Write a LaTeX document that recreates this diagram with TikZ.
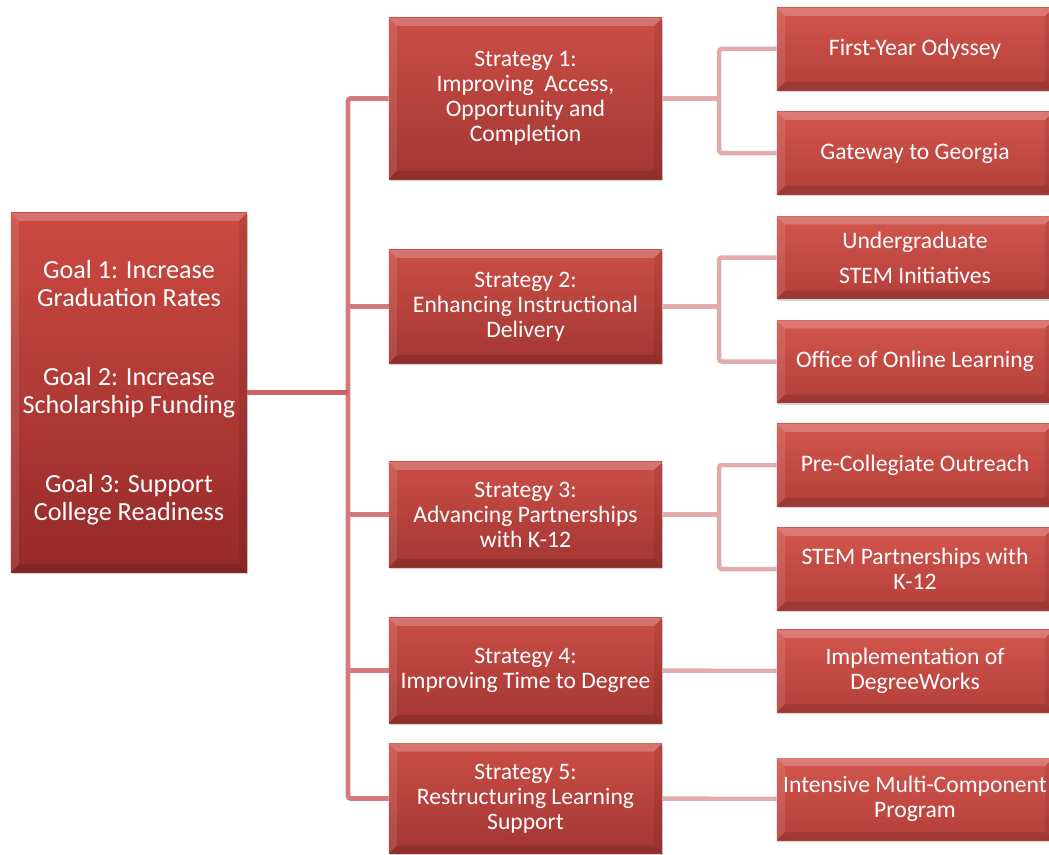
\documentclass[tikz,border=0pt]{standalone}
\usepackage{fontspec}
\setmainfont{Carlito}
\usetikzlibrary{shadows}

\definecolor{goaltop}{RGB}{203,74,66}
\definecolor{goalbot}{RGB}{150,42,40}
\definecolor{strattop}{RGB}{203,78,70}
\definecolor{stratbot}{RGB}{163,54,50}
\definecolor{leaftop}{RGB}{210,86,78}
\definecolor{leafbot}{RGB}{180,63,57}
\definecolor{trunkred}{RGB}{212,122,122}
\definecolor{goallink}{RGB}{202,98,98}
\definecolor{twigred}{RGB}{226,172,172}

\tikzset{
  bevel/.style={path picture={
      \path (path picture bounding box.north west) coordinate (bnw)
            (path picture bounding box.south east) coordinate (bse);
      \fill[white, opacity=0.22] (bnw) -- (bnw -| bse) -- ++(-#1,-#1) -- ([shift={(#1,-#1)}]bnw) -- cycle;
      \fill[white, opacity=0.10] (bnw) -- ([shift={(#1,-#1)}]bnw) -- ([shift={(#1,#1)}]bnw |- bse) -- (bnw |- bse) -- cycle;
      \fill[black, opacity=0.08] (bnw -| bse) -- (bse) -- ++(-#1,#1) -- ([shift={(-#1,-#1)}]bnw -| bse) -- cycle;
      \fill[black, opacity=0.12] (bnw |- bse) -- (bse) -- ++(-#1,#1) -- ([shift={(#1,#1)}]bnw |- bse) -- cycle;
  }},
  box/.style={rectangle, align=center, text=white, inner sep=1pt, bevel=0.2cm,
    drop shadow={shadow xshift=1pt, shadow yshift=-1.5pt, opacity=0.35}},
  goalbox/.style={box, top color=goaltop, bottom color=goalbot,
    minimum width=5.9cm, minimum height=8.975cm, font=\fontsize{18.6}{20}\selectfont},
  stratbox/.style={box, top color=strattop, bottom color=stratbot,
    minimum width=6.825cm, font=\fontsize{16.8}{17.8}\selectfont},
  leafbox/.style={box, top color=leaftop, bottom color=leafbot,
    minimum width=6.9cm, minimum height=2.05cm, font=\fontsize{16.8}{17.8}\selectfont},
  trunkline/.style={draw=trunkred, line width=3.5pt, rounded corners=2pt},
  goalline/.style={draw=goallink, line width=3.5pt},
  twigline/.style={draw=twigred, line width=3.2pt, rounded corners=2pt}
}

\begin{document}
\begin{tikzpicture}[x=0.025cm, y=-0.025cm]
  \useasboundingbox (0,0) rectangle (1049,854);
  \clip (0,0) rectangle (1049,854);

  % goals
  \node[goalbox] (goal) at (129,392.5) {Goal 1: Increase\\Graduation Rates\\[36pt]Goal 2: Increase\\Scholarship Funding\\[36pt]Goal 3: Support\\College Readiness};

  % strategies
  \node[stratbox, minimum height=4.025cm] (s1) at (525.5,98.5) {Strategy 1:\\Improving~ Access,\\Opportunity and\\Completion};
  \node[stratbox, minimum height=2.825cm] (s2) at (525.5,306.5) {Strategy 2:\\Enhancing Instructional\\Delivery};
  \node[stratbox, minimum height=2.625cm] (s3) at (525.5,514.5) {Strategy 3:\\Advancing Partnerships\\with K-12};
  \node[stratbox, minimum height=2.625cm] (s4) at (525.5,670.5) {Strategy 4:\\Improving Time to Degree};
  \node[stratbox, minimum height=2.75cm] (s5) at (525.5,798.5) {Strategy 5:\\Restructuring Learning\\Support};

  % programs
  \node[leafbox] (l1) at (915,49) {First-Year Odyssey};
  \node[leafbox] (l2) at (915,153) {Gateway to Georgia};
  \node[leafbox] (l3) at (915,257.5) {Undergraduate\\[7pt]STEM Initiatives};
  \node[leafbox] (l4) at (915,361.5) {Office of Online Learning};
  \node[leafbox] (l5) at (915,465) {Pre-Collegiate Outreach};
  \node[leafbox] (l6) at (915,569) {STEM Partnerships with\\K-12};
  \node[leafbox] (l7) at (915,671) {Implementation of\\DegreeWorks};
  \node[leafbox] (l8) at (915,799) {Intensive Multi-Component\\Program};

  \coordinate (hub) at (348,392.5);
  \coordinate (fork) at (719,0);

  % links
  \draw[trunkline] (s1) -| (hub) |- (s5);
  \foreach \s in {s2,s3,s4}
    \draw[trunkline] (hub |- \s) -- (\s);
  \draw[goalline] (goal) -- (hub);

  \foreach \s/\a/\b in {s1/l1/l2, s2/l3/l4, s3/l5/l6} {
    \draw[twigline] (\s) -- (\s -| fork);
    \draw[twigline] (\a) -| (\s -| fork) |- (\b);
  }
  \draw[twigline] (s4) -- (l7);
  \draw[twigline] (s5) -- (l8);
\end{tikzpicture}
\end{document}
